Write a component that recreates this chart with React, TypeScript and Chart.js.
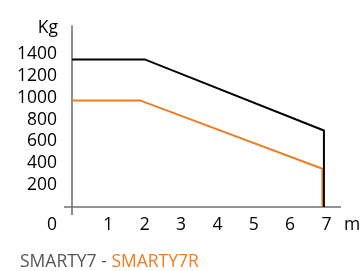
import React, { useEffect, useRef } from "react";
import { Chart, registerables } from "chart.js";

Chart.register(...registerables);

const blackX = [0, 2.0, 6.93, 6.93];
const blackY = [1350, 1350, 700, 0];
const orangeX = [0, 1.87, 6.89, 6.89];
const orangeY = [975, 975, 350, 0];
const yTicks = [200, 400, 600, 800, 1000, 1200, 1400];
const xTicks = [1, 2, 3, 4, 5, 6, 7];
const yUnit = "Kg";
const xUnit = "m";
const seriesNames = ["SMARTY7", "SMARTY7R"];

const FONT = "'Open Sans', sans-serif";
const ORANGE = "#ef7d1f";

const axesPlugin = {
  id: "customAxes",
  beforeDatasetsDraw(chart: any) {
    const { ctx } = chart;
    const xs = chart.scales.x;
    const ys = chart.scales.y;
    const x0 = xs.getPixelForValue(0);
    const y0 = ys.getPixelForValue(0);
    ctx.save();
    ctx.strokeStyle = "#707070";
    ctx.lineWidth = 1.6;
    ctx.beginPath();
    ctx.moveTo(x0, chart.chartArea.top);
    ctx.lineTo(x0, y0 + 8);
    ctx.moveTo(x0 - 8, y0);
    ctx.lineTo(chart.chartArea.right, y0);
    ctx.stroke();
    ctx.restore();
  },
  afterDraw(chart: any) {
    const { ctx } = chart;
    const xs = chart.scales.x;
    const ys = chart.scales.y;
    const x0 = xs.getPixelForValue(0);
    const y0 = ys.getPixelForValue(0);
    ctx.save();
    ctx.fillStyle = "#000";
    ctx.font = `17.5px ${FONT}`;
    ctx.textBaseline = "middle";
    ctx.textAlign = "right";
    ctx.fillText("0", x0 - 15, y0 + 18);
    ctx.fillText(yUnit, x0 - 14, chart.chartArea.top + 3);
    ctx.textAlign = "left";
    ctx.fillText(xUnit, chart.chartArea.right + 3, y0 + 18);
    ctx.restore();
  },
};

export default function App() {
  const ref = useRef<HTMLCanvasElement | null>(null);
  useEffect(() => {
    document.body.style.margin = "0";
    const chart = new Chart(ref.current as HTMLCanvasElement, {
      type: "scatter",
      data: {
        datasets: [
          {
            label: seriesNames[0],
            data: blackX.map((x, i) => ({ x, y: blackY[i] })),
            showLine: true,
            borderColor: "#000",
            borderWidth: 2,
            pointRadius: 0,
            fill: false,
          },
          {
            label: seriesNames[1],
            data: orangeX.map((x, i) => ({ x, y: orangeY[i] })),
            showLine: true,
            borderColor: ORANGE,
            borderWidth: 2,
            pointRadius: 0,
            fill: false,
          },
        ],
      },
      options: {
        animation: false,
        responsive: false,
        layout: { padding: { top: 23, right: 22, left: 0, bottom: 0 } },
        plugins: { legend: { display: false }, tooltip: { enabled: false } },
        scales: {
          x: {
            type: "linear",
            min: 0,
            max: 7.4,
            afterFit: (s: any) => {
              s.height = 64;
            },
            afterBuildTicks: (s: any) => {
              s.ticks = xTicks.map((v) => ({ value: v }));
            },
            grid: { display: false, drawTicks: false },
            border: { display: false },
            ticks: {
              padding: 8,
              color: "#000",
              font: { family: FONT, size: 17.5 },
              maxRotation: 0,
              autoSkip: false,
              callback: (v: any) => String(v),
            },
          },
          y: {
            type: "linear",
            min: 0,
            max: 1660,
            afterFit: (s: any) => {
              s.width = 72;
            },
            afterBuildTicks: (s: any) => {
              s.ticks = yTicks.map((v) => ({ value: v }));
            },
            grid: { display: false, drawTicks: false },
            border: { display: false },
            ticks: {
              padding: 15,
              color: "#000",
              font: { family: FONT, size: 17.5 },
              autoSkip: false,
              callback: (v: any) => String(v),
            },
          },
        },
      },
      plugins: [axesPlugin],
    } as any);
    return () => chart.destroy();
  }, []);

  return (
    <div style={{ position: "relative", width: 363, height: 271 }}>
      <canvas ref={ref} width={363} height={271} style={{ display: "block" }} />
      <div
        style={{
          position: "absolute",
          left: 20,
          top: 249,
          fontFamily: FONT,
          fontSize: 17.5,
          lineHeight: "22px",
          color: "#555",
          whiteSpace: "nowrap",
        }}
      >
        {seriesNames[0]} - <span style={{ color: ORANGE }}>{seriesNames[1]}</span>
      </div>
    </div>
  );
}
